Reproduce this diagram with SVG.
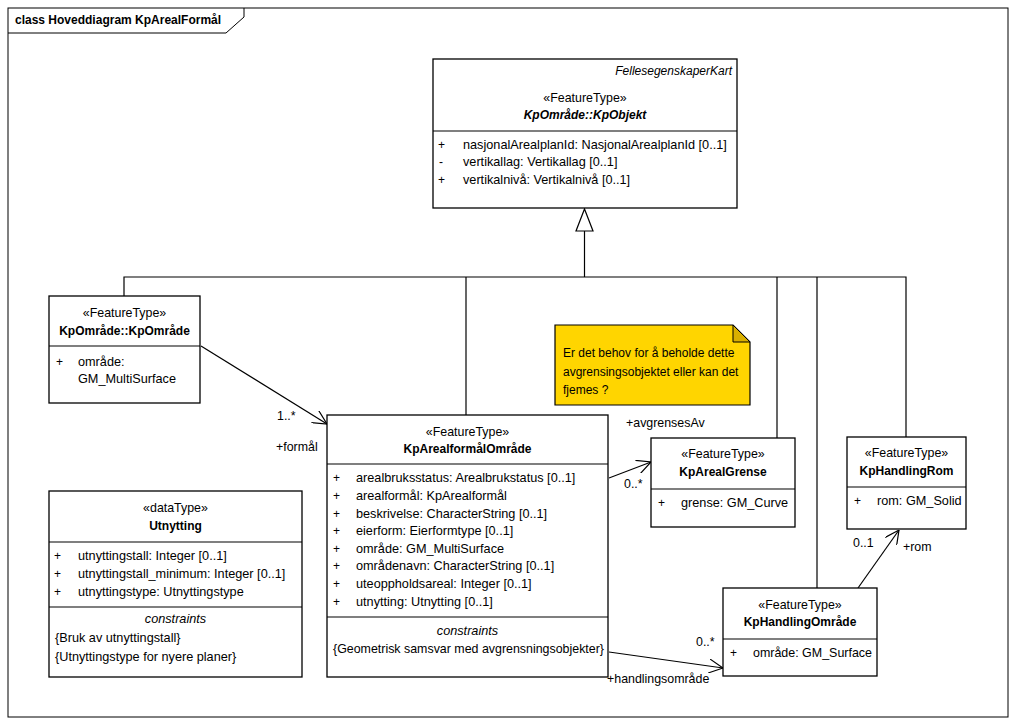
<svg xmlns="http://www.w3.org/2000/svg" width="1017" height="727" viewBox="0 0 1017 727">
<defs>
<style>
.box{fill:#fff;stroke:#000;stroke-width:1.3}
.ln{fill:none;stroke:#000;stroke-width:1.2}
text{font-family:"Liberation Sans",Arial,sans-serif;font-size:12px;fill:#000}
.a{font-size:12.7px}
.l{font-size:12.4px}
.b{font-weight:bold}
.i{font-style:italic}
.c{text-anchor:middle}
.e{text-anchor:end}
</style>
<marker id="open" viewBox="0 0 14 14" refX="14" refY="7" markerWidth="14" markerHeight="14" markerUnits="userSpaceOnUse" orient="auto">
<path d="M0,0 L14,7 L0,14" fill="none" stroke="#000" stroke-width="1.2"/>
</marker>
</defs>
<rect x="0" y="0" width="1017" height="727" fill="#fff"/>
<g id="frame">
<rect x="8" y="8" width="1000" height="709" fill="none" stroke="#000" stroke-width="1"/>
<path d="M8,33 L226,33 L244,17 L244,8" fill="none" stroke="#000" stroke-width="1"/>
<text x="15" y="24" class="b">class Hoveddiagram KpArealFormål</text>
</g>
<g id="connectors">
<polyline class="ln" points="124,296 124,277 906,277 906,437"/>
<line class="ln" x1="466" y1="277" x2="466" y2="415"/>
<line class="ln" x1="777" y1="277" x2="777" y2="438"/>
<line class="ln" x1="817" y1="277" x2="817" y2="588"/>
<line class="ln" x1="584.5" y1="277" x2="584.5" y2="231"/>
<polygon points="576,231 593,231 584.5,209" fill="#fff" stroke="#000" stroke-width="1.2"/>
<line class="ln" x1="201" y1="346" x2="327" y2="424" marker-end="url(#open)"/>
<line class="ln" x1="609" y1="478" x2="651" y2="462" marker-end="url(#open)"/>
<line class="ln" x1="858" y1="588" x2="899" y2="530" marker-end="url(#open)"/>
<line class="ln" x1="609" y1="652" x2="723" y2="668" marker-end="url(#open)"/>
<text x="277" y="420" class="l">1..*</text>
<text x="276" y="451" class="l">+formål</text>
<text x="626" y="427" class="l">+avgrensesAv</text>
<text x="624" y="488" class="l">0..*</text>
<text x="853" y="547" class="l">0..1</text>
<text x="903" y="551" class="l">+rom</text>
<text x="696" y="646" class="l">0..*</text>
<text x="607" y="683" class="l">+handlingsområde</text>
</g>
<g id="KpObjekt">
<rect class="box" x="433" y="59" width="304" height="149"/>
<line class="ln" x1="433" y1="131" x2="737" y2="131"/>
<text x="732" y="75" class="i e">FellesegenskaperKart</text>
<text x="585" y="102" class="c l">«FeatureType»</text>
<text x="585" y="119" class="b i c">KpOmråde::KpObjekt</text>
<text x="438" y="149">+</text><text x="463" y="149" class="a">nasjonalArealplanId: NasjonalArealplanId [0..1]</text>
<text x="439" y="166">-</text><text x="463" y="166" class="a">vertikallag: Vertikallag [0..1]</text>
<text x="438" y="184">+</text><text x="463" y="184" class="a">vertikalnivå: Vertikalnivå [0..1]</text>
</g>
<g id="KpOmrade">
<rect class="box" x="49" y="296" width="151" height="107"/>
<line class="ln" x1="49" y1="346" x2="200" y2="346"/>
<text x="124.5" y="317" class="c l">«FeatureType»</text>
<text x="124.5" y="335" class="b c">KpOmråde::KpOmråde</text>
<text x="56" y="366">+</text><text x="78" y="366" class="a">område:</text>
<text x="78" y="383" class="a">GM_MultiSurface</text>
</g>
<g id="note">
<path d="M555,325 L733,325 L750,342 L750,405 L555,405 Z" fill="#FFD500" stroke="#000" stroke-width="1.2"/>
<path d="M733,325 L733,342 L750,342 Z" fill="#D9B000" stroke="#000" stroke-width="1"/>
<text x="563" y="357">Er det behov for å beholde dette</text>
<text x="563" y="376">avgrensingsobjektet eller kan det</text>
<text x="563" y="394">fjemes ?</text>
</g>
<g id="KpArealformalOmrade">
<rect class="box" x="327" y="415" width="281" height="262"/>
<line class="ln" x1="327" y1="464" x2="608" y2="464"/>
<line class="ln" x1="327" y1="617" x2="608" y2="617"/>
<text x="467.5" y="436" class="c l">«FeatureType»</text>
<text x="467.5" y="453" class="b c">KpArealformålOmråde</text>
<text x="333" y="482">+</text><text x="356" y="482" class="a">arealbruksstatus: Arealbrukstatus [0..1]</text>
<text x="333" y="500">+</text><text x="356" y="500" class="a">arealformål: KpArealformål</text>
<text x="333" y="518">+</text><text x="356" y="518" class="a">beskrivelse: CharacterString [0..1]</text>
<text x="333" y="535">+</text><text x="356" y="535" class="a">eierform: Eierformtype [0..1]</text>
<text x="333" y="553">+</text><text x="356" y="553" class="a">område: GM_MultiSurface</text>
<text x="333" y="570">+</text><text x="356" y="570" class="a">områdenavn: CharacterString [0..1]</text>
<text x="333" y="588">+</text><text x="356" y="588" class="a">uteoppholdsareal: Integer [0..1]</text>
<text x="333" y="606">+</text><text x="356" y="606" class="a">utnytting: Utnytting [0..1]</text>
<text x="467.5" y="635" class="i c a">constraints</text>
<text x="333" y="653" class="a" textLength="271" lengthAdjust="spacingAndGlyphs">{Geometrisk samsvar med avgrensningsobjekter}</text>
</g>
<g id="Utnytting">
<rect class="box" x="49" y="491" width="253" height="186"/>
<line class="ln" x1="49" y1="542" x2="302" y2="542"/>
<line class="ln" x1="49" y1="607" x2="302" y2="607"/>
<text x="175.5" y="512" class="c l">«dataType»</text>
<text x="175.5" y="530" class="b c">Utnytting</text>
<text x="54" y="560">+</text><text x="78" y="560" class="a">utnyttingstall: Integer [0..1]</text>
<text x="54" y="578">+</text><text x="78" y="578" class="a">utnyttingstall_minimum: Integer [0..1]</text>
<text x="54" y="596">+</text><text x="78" y="596" class="a">utnyttingstype: Utnyttingstype</text>
<text x="175.5" y="623" class="i c a">constraints</text>
<text x="55" y="642" class="a">{Bruk av utnyttingstall}</text>
<text x="55" y="661" class="a">{Utnyttingstype for nyere planer}</text>
</g>
<g id="KpArealGrense">
<rect class="box" x="651" y="438" width="144" height="89"/>
<line class="ln" x1="651" y1="489" x2="795" y2="489"/>
<text x="723" y="458" class="c l">«FeatureType»</text>
<text x="723" y="476" class="b c">KpArealGrense</text>
<text x="658" y="507">+</text><text x="681" y="507" class="a">grense: GM_Curve</text>
</g>
<g id="KpHandlingRom">
<rect class="box" x="847" y="437" width="119" height="92"/>
<line class="ln" x1="847" y1="487" x2="966" y2="487"/>
<text x="906.5" y="457" class="c l">«FeatureType»</text>
<text x="906.5" y="475" class="b c">KpHandlingRom</text>
<text x="854" y="505">+</text><text x="877" y="505" class="a">rom: GM_Solid</text>
</g>
<g id="KpHandlingOmrade">
<rect class="box" x="723" y="588" width="154" height="88"/>
<line class="ln" x1="723" y1="639" x2="877" y2="639"/>
<text x="800" y="609" class="c l">«FeatureType»</text>
<text x="800" y="626" class="b c">KpHandlingOmråde</text>
<text x="730" y="657">+</text><text x="753" y="657" class="a" textLength="119" lengthAdjust="spacingAndGlyphs">område: GM_Surface</text>
</g>
</svg>
